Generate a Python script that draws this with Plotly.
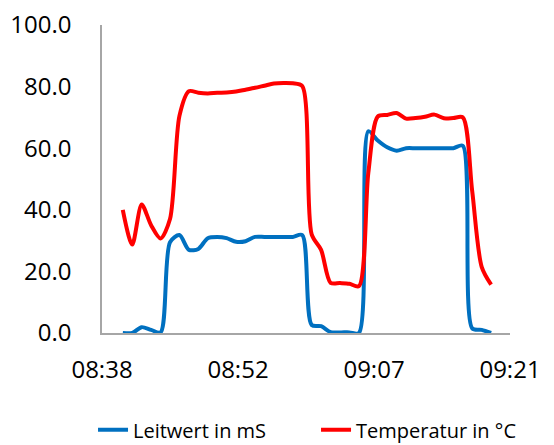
import plotly.graph_objects as go

times = ["08:40:36", "08:41:36", "08:42:36", "08:43:36", "08:44:36", "08:45:36",
         "08:46:36", "08:47:36", "08:48:36", "08:49:36", "08:50:36", "08:51:36",
         "08:52:36", "08:53:36", "08:54:36", "08:55:36", "08:56:36", "08:57:36",
         "08:58:36", "08:59:36", "09:00:36", "09:01:36", "09:02:36", "09:03:36",
         "09:04:36", "09:05:36", "09:06:36", "09:07:36", "09:08:36", "09:09:36",
         "09:10:36", "09:11:36", "09:12:36", "09:13:36", "09:14:36", "09:15:36",
         "09:16:36", "09:17:36", "09:18:36", "09:19:36"]

leitwert = [0.0, 0.0, 1.9, 1.0, 0.2, 29.5, 31.8, 27.0, 27.3, 30.8,
            31.2, 30.8, 29.6, 29.8, 31.2, 31.2, 31.2, 31.2, 31.2, 31.8,
            2.6, 2.2, 0.3, 0.2, 0.2, 0.0, 65.5, 62.5, 60.3, 59.2,
            60.0, 60.0, 60.0, 60.0, 60.0, 60.0, 60.8, 1.5, 1.0, 0.0]

temperatur = [40.0, 28.7, 41.7, 35.0, 30.7, 37.0, 70.5, 78.5, 78.0, 77.8,
              78.0, 78.1, 78.4, 79.0, 79.6, 80.3, 81.0, 81.2, 81.1, 80.2,
              32.0, 27.0, 16.3, 16.2, 16.0, 15.2, 52.0, 70.3, 70.8, 71.4,
              69.6, 69.8, 70.2, 70.9, 69.7, 69.8, 70.0, 46.0, 21.5, 15.7]

tick_vals = ["08:38:24", "08:52:48", "09:07:12", "09:21:36"]
tick_text = ["08:38", "08:52", "09:07", "09:21"]
y_ticks = [0, 20, 40, 60, 80, 100]

day = "2000-01-01 "
x = [day + t for t in times]

font_family = "Open Sans"

fig = go.Figure()
fig.add_trace(go.Scatter(
    x=x, y=leitwert, name="Leitwert in mS", mode="lines",
    line=dict(color="#0070C0", width=4, shape="spline", smoothing=0.8),
))
fig.add_trace(go.Scatter(
    x=x, y=temperatur, name="Temperatur in °C", mode="lines",
    line=dict(color="#FF0000", width=4, shape="spline", smoothing=0.8),
))

# page body has an 8px default margin, so the figure is sized/placed to compensate
fig.update_layout(
    width=546, height=437,
    margin=dict(l=94, r=44, t=17, b=112, autoexpand=False),
    paper_bgcolor="white", plot_bgcolor="white",
    font=dict(family=font_family, color="black", size=24),
    showlegend=True,
    legend=dict(orientation="h", x=-0.022, xanchor="left", y=-0.314,
                yanchor="middle", font=dict(size=20), itemwidth=30,
                entrywidth=178, entrywidthmode="pixels",
                tracegroupgap=0, bgcolor="rgba(0,0,0,0)"),
)
fig.update_xaxes(
    type="date",
    range=[day + tick_vals[0], day + tick_vals[-1]],
    tickmode="array",
    tickvals=[day + t for t in tick_vals],
    ticktext=tick_text,
    showgrid=False, zeroline=False,
    showline=True, linecolor="#A6A6A6", linewidth=1.5,
    ticks="", ticklabelstandoff=14, ticklabeloverflow="allow",
    tickfont=dict(size=24),
)
fig.update_yaxes(
    range=[0, 100],
    tickmode="array",
    tickvals=y_ticks,
    ticktext=[f"{v:.1f}" for v in y_ticks],
    showgrid=False, zeroline=False,
    showline=True, linecolor="#A6A6A6", linewidth=1.5,
    ticks="", ticklabelstandoff=24, ticklabeloverflow="allow",
    tickfont=dict(size=24),
)

fig.write_html("out.html")
